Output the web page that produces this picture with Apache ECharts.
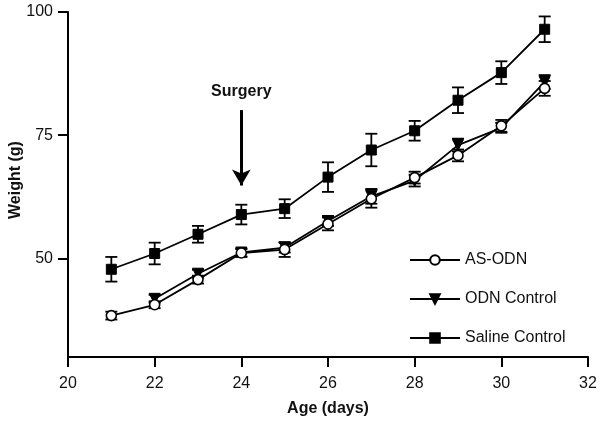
<!DOCTYPE html>
<html>
<head>
<meta charset="utf-8">
<script src="https://cdn.jsdelivr.net/npm/echarts@6/dist/echarts.min.js"></script>
<style>
html,body{margin:0;padding:0;background:#fff;}
#main{width:600px;height:423px;}
</style>
</head>
<body>
<div id="main"></div>
<script>
var days = [21, 22, 23, 24, 25, 26, 27, 28, 29, 30, 31];
var asOdn = [38.4, 40.6, 45.7, 51.1, 51.8, 57.0, 62.1, 66.4, 70.9, 76.9, 84.5];
var asOdnErr = [0.8, 0.7, 0.8, 0.8, 1.5, 1.3, 1.8, 1.2, 1.2, 1.2, 1.5];
var odnCtrl = [null, 41.8, 46.9, 51.2, 52.2, 57.6, 62.6, 65.8, 73.0, 76.5, 85.8];
var odnErr = [0, 0.8, 0.8, 0.8, 1.0, 1.0, 1.5, 1.2, 1.3, 1.0, 1.4];
var saline = [47.8, 51.0, 54.9, 58.9, 60.1, 66.5, 72.0, 75.9, 82.1, 87.7, 96.5];
var salineErr = [2.5, 2.2, 1.7, 2.0, 1.9, 3.0, 3.3, 2.0, 2.6, 2.3, 2.6];
var seriesNames = ['AS-ODN', 'ODN Control', 'Saline Control'];
var yTicks = [50, 75, 100];
var yAxisTitle = 'Weight (g)';
var xAxisTitle = 'Age (days)';
var surgeryDay = 24;
var surgeryArrow = [80.1, 64.8];
var surgeryLabel = 'Surgery';

function pairs(vals) {
  return days.map(function (d, i) { return vals[i] == null ? [d, null] : [d, vals[i]]; });
}
function errData(vals, errs) {
  var out = [];
  days.forEach(function (d, i) {
    if (vals[i] != null && errs[i] > 0) out.push([d, vals[i] - errs[i], vals[i] + errs[i]]);
  });
  return out;
}
function errSeries(vals, errs, z) {
  return {
    type: 'custom',
    z: z,
    silent: true,
    data: errData(vals, errs),
    encode: { x: 0, y: [1, 2] },
    renderItem: function (params, api) {
      var x = api.value(0);
      var lo = api.coord([x, api.value(1)]);
      var hi = api.coord([x, api.value(2)]);
      var w = 6;
      var st = { stroke: '#000', lineWidth: 1.8, fill: null };
      return {
        type: 'group',
        children: [
          { type: 'line', shape: { x1: lo[0], y1: lo[1], x2: hi[0], y2: hi[1] }, style: st },
          { type: 'line', shape: { x1: lo[0] - w, y1: lo[1], x2: lo[0] + w, y2: lo[1] }, style: st },
          { type: 'line', shape: { x1: hi[0] - w, y1: hi[1], x2: hi[0] + w, y2: hi[1] }, style: st }
        ]
      };
    }
  };
}

var font = 'Liberation Sans, Arial, sans-serif';
var chart = echarts.init(document.getElementById('main'), null, { renderer: 'canvas' });
chart.setOption({
  animation: false,
  backgroundColor: '#fff',
  grid: { left: 68, right: 12, top: 12, bottom: 66, containLabel: false, outerBoundsMode: 'none' },
  graphic: [{
    type: 'text', x: 16, y: 180, rotation: Math.PI / 2,
    style: { text: yAxisTitle, align: 'center', verticalAlign: 'middle',
      font: 'bold 16px Liberation Sans, Arial, sans-serif', fill: '#111' }
  }],
  xAxis: {
    type: 'value', min: 20, max: 32, interval: 2,
    name: xAxisTitle, nameLocation: 'middle', nameGap: 44,
    nameTextStyle: { fontFamily: font, fontWeight: 'bold', fontSize: 16, color: '#111' },
    axisLine: { lineStyle: { color: '#000', width: 2 } },
    axisTick: { length: 10, lineStyle: { color: '#000', width: 2 } },
    axisLabel: { fontFamily: font, fontSize: 16, color: '#111', margin: 19 },
    splitLine: { show: false }
  },
  yAxis: {
    type: 'value', min: 30, max: 100,
    axisLine: { show: true, lineStyle: { color: '#000', width: 2 } },
    axisTick: { show: true, length: 10, lineStyle: { color: '#000', width: 2 }, customValues: yTicks },
    axisLabel: { fontFamily: font, fontSize: 16, color: '#111', margin: 15, customValues: yTicks },
    splitLine: { show: false }
  },
  legend: {
    orient: 'vertical', left: 404, top: 247,
    itemWidth: 50, itemHeight: 12, itemGap: 23,
    data: seriesNames,
    textStyle: { fontFamily: font, fontSize: 16, color: '#111' }
  },
  series: [
    errSeries(asOdn, asOdnErr, 2),
    errSeries(odnCtrl, odnErr, 2),
    errSeries(saline, salineErr, 2),
    {
      name: seriesNames[1], type: 'line', z: 3, data: pairs(odnCtrl),
      symbol: 'triangle', symbolRotate: 180, symbolSize: 11, showAllSymbol: true,
      lineStyle: { color: '#000', width: 1.8 },
      itemStyle: { color: '#000', borderColor: '#000', borderWidth: 1 }
    },
    {
      name: seriesNames[0], type: 'line', z: 4, data: pairs(asOdn),
      symbol: 'circle', symbolSize: 10, showAllSymbol: true,
      lineStyle: { color: '#000', width: 1.8 },
      itemStyle: { color: '#fff', borderColor: '#000', borderWidth: 1.6 }
    },
    {
      name: seriesNames[2], type: 'line', z: 3, data: pairs(saline),
      symbol: 'rect', symbolSize: 10, showAllSymbol: true,
      lineStyle: { color: '#000', width: 1.8 },
      itemStyle: { color: '#000', borderColor: '#000', borderWidth: 1 },
      markLine: {
        silent: true,
        symbol: ['none', 'arrow'],
        symbolSize: [14, 16],
        lineStyle: { color: '#000', width: 3, type: 'solid' },
        label: {
          show: true, position: 'start', formatter: surgeryLabel, distance: 10,
          fontFamily: font, fontWeight: 'bold', fontSize: 16, color: '#111'
        },
        data: [[{ coord: [surgeryDay, surgeryArrow[0]] }, { coord: [surgeryDay, surgeryArrow[1]] }]]
      }
    }
  ]
});
</script>
</body>
</html>
